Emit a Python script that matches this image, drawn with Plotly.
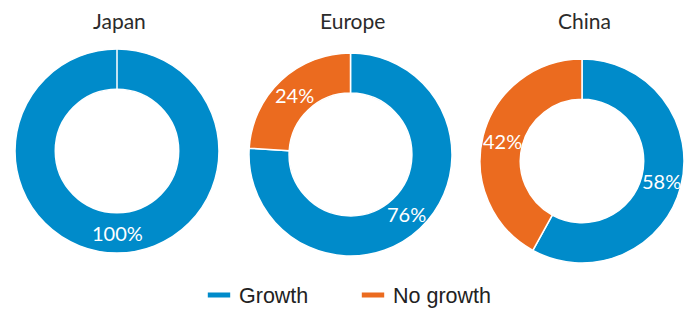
import math
import plotly.graph_objects as go

regions = ["Japan", "Europe", "China"]
categories = ["Growth", "No growth"]
growth = [100, 76, 58]
no_growth = [0, 24, 42]
colors = ["#008BCA", "#EB6B1F"]

# pie placement in pixels (left, right, top, bottom) for a 696x322 canvas
W, H = 696, 322
boxes = [(15, 219, 49, 253), (249, 452, 53, 256), (480, 684, 59, 263)]
HOLE = 0.605

fig = go.Figure()
for i, name in enumerate(regions):
    vals = [growth[i], no_growth[i]]
    l, r, t, b = boxes[i]
    fig.add_trace(go.Pie(
        labels=categories,
        values=vals,
        textinfo="none",
        hole=HOLE,
        sort=False,
        direction="clockwise",
        rotation=0,
        marker=dict(colors=colors, line=dict(color="white", width=1.5)),
        domain=dict(x=[l / W, r / W], y=[1 - b / H, 1 - t / H]),
        showlegend=False,
        hoverinfo="label+percent",
        name=name,
    ))
    # percentage labels at the middle of each slice (derived from the values)
    cx, cy = (l + r) / 2, (t + b) / 2
    rad = min(r - l, b - t) / 2
    rm = rad * (1 + HOLE) / 2
    total = sum(vals)
    start = 0.0
    for v in vals:
        frac = v / total
        if v > 0:
            mid = (start + frac / 2) * 2 * math.pi
            px = cx + rm * math.sin(mid)
            py = cy - rm * math.cos(mid)
            fig.add_annotation(
                text=f"{v}%", x=px / W, y=1 - py / H, xref="paper", yref="paper",
                xanchor="center", yanchor="middle", showarrow=False,
                font=dict(size=20, family="Lato", color="white"),
            )
        start += frac
    fig.add_annotation(
        text=name, x=((l + r) / 2 + 2) / W, y=1 - 20 / H,
        xref="paper", yref="paper", xanchor="center", yanchor="middle",
        showarrow=False, font=dict(size=21, family="Lato", color="#2b2b2b"),
    )

for cat, col in zip(categories, colors):
    fig.add_trace(go.Scatter(
        x=[None], y=[None], mode="markers", name=cat,
        marker=dict(symbol="line-ew", size=20, color=col,
                    line=dict(color=col, width=7)),
        showlegend=True,
    ))

fig.update_layout(
    width=W, height=H,
    margin=dict(l=0, r=0, t=0, b=0),
    paper_bgcolor="white", plot_bgcolor="white",
    xaxis=dict(visible=False), yaxis=dict(visible=False),
    legend=dict(
        orientation="h", x=0.5 + 5 / W, xanchor="center", y=1 - 295 / H, yanchor="middle",
        font=dict(size=21.5, family="Liberation Sans", color="#222222"),
        entrywidth=109, bgcolor="rgba(0,0,0,0)",
    ),
)
fig.write_html("out.html")
